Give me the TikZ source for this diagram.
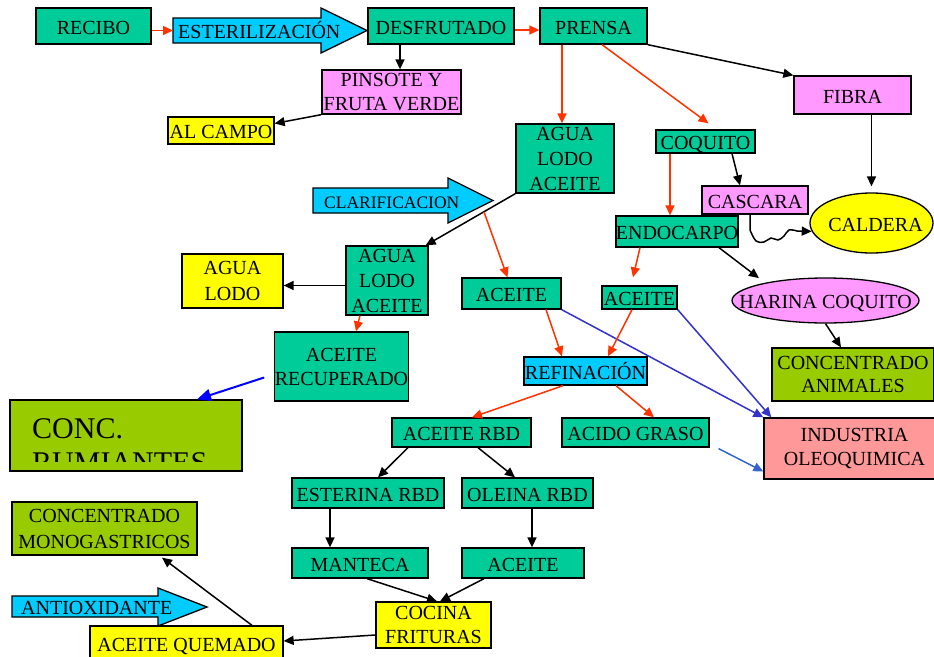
\documentclass[tikz,border=0pt]{standalone}
\usepackage{fontspec}
\setmainfont{Liberation Serif}
\usetikzlibrary{arrows.meta,shapes.geometric}

\definecolor{boxgreen}{RGB}{0,204,153}
\definecolor{boxcyan}{RGB}{0,204,255}
\definecolor{boxpink}{RGB}{255,153,255}
\definecolor{boxyellow}{RGB}{255,255,0}
\definecolor{boxolive}{RGB}{153,204,0}
\definecolor{boxsalmon}{RGB}{255,153,153}
\definecolor{linered}{RGB}{255,51,0}
\definecolor{lineblue}{RGB}{0,0,255}
\definecolor{lineviolet}{RGB}{51,51,204}
\definecolor{linesky}{RGB}{51,102,204}

\begin{document}
\begin{tikzpicture}[x=1pt, y=-1pt,
    box/.style={draw, rectangle, line width=1.3pt, inner sep=0pt, align=center,
      font=\fontsize{20}{25}\selectfont},
    one/.style={text height=16pt, text depth=0pt},
    wh/.style 2 args={minimum width=#1pt, minimum height=#2pt},
    fgreen/.style={fill=boxgreen},
    fcyan/.style={fill=boxcyan},
    fpink/.style={fill=boxpink},
    fyellow/.style={fill=boxyellow},
    folive/.style={fill=boxolive},
    fsalmon/.style={fill=boxsalmon},
    blockarrow/.style={draw, line width=1.3pt, fill=boxcyan},
    arrowtext/.style={anchor=west, inner xsep=5pt, inner ysep=0pt, text height=16pt,
      text depth=0pt, font=\fontsize{20}{25}\selectfont},
    blk/.style={-{Triangle[length=10pt,width=9pt]}, line width=1.5pt},
    redarr/.style={blk, draw=linered, fill=linered},
    bluearr/.style={-{Triangle[length=14pt,width=12pt]}, line width=2pt, draw=lineblue, fill=lineblue},
    violetarr/.style={blk, draw=lineviolet, fill=lineviolet},
    skyarr/.style={blk, draw=linesky, fill=linesky}]

    \useasboundingbox (0,0) rectangle (934,656);

    % Nodes
    \node [box, one, fgreen, wh={115}{36}] (recibo) at (93.5,26) {RECIBO};
    \draw [blockarrow] (173,18) -- (321,18) -- (321,8) -- (367,30.5) -- (321,53) -- (321,43) -- (173,43) -- cycle;
    \node [arrowtext] (esteril) at (173,30.5) {ESTERILIZACIÓN};
    \node [box, one, fgreen, wh={146}{36}] (desfrutado) at (441,26) {DESFRUTADO};
    \node [box, one, fgreen, wh={107}{36}] (prensa) at (593.5,26) {PRENSA};
    \node [box, fpink, wh={139}{44}, font=\fontsize{20}{24}\selectfont] (pinsote) at (391.5,92) {PINSOTE Y\\FRUTA VERDE};
    \node [box, one, fyellow, wh={106}{27}] (alcampo) at (221,130.5) {AL CAMPO};
    \node [box, one, fpink, wh={117}{38}] (fibra) at (852.5,95) {FIBRA};
    \node [box, fgreen, wh={98}{69}] (agua1) at (565,158.5) {AGUA\\LODO\\ACEITE};
    \node [box, one, fgreen, wh={99}{23}] (coquito) at (705.5,141.5) {COQUITO};
    \node [box, one, fpink, wh={106}{28}] (cascara) at (755,200) {CASCARA};
    \node [box, one, ellipse, fyellow, wh={123}{60}] (caldera) at (871.5,223) {\makebox[0pt]{\hspace{8pt}CALDERA}};
    \node [box, one, fgreen, wh={122}{31}] (endocarpo) at (677,231.5) {ENDOCARPO};
    \draw [blockarrow] (313,188) -- (448,188) -- (448,178) -- (493,200.5) -- (448,223) -- (448,213) -- (313,213) -- cycle;
    \node [arrowtext, inner xsep=11pt, text height=15pt, font=\fontsize{17.5}{20}\selectfont] (clarif) at (313,200.5) {CLARIFICACION};
    \coordinate (clarout) at (484,212);
    \node [box, fgreen, wh={82}{69}] (agua2) at (387,280.5) {AGUA\\LODO\\ACEITE};
    \node [box, fyellow, wh={101}{54}, font=\fontsize{20}{26}\selectfont] (agualodo) at (232.5,281) {AGUA\\LODO};
    \node [box, fgreen, wh={131}{69}, font=\fontsize{20}{24}\selectfont] (recuperado) at (341.5,366.5) {ACEITE\\RECUPERADO};
    \node [box, folive, wh={232}{71}] (rumiantes) at (126,435.5) {};
    \begin{scope}
      \clip (rumiantes.north west) rectangle ([yshift=10pt]rumiantes.south east);
      \node [anchor=north west, inner sep=0pt, align=left, font=\fontsize{30}{34}\selectfont] (rumtext) at (32,418) {CONC.\\RUMIANTES};
    \end{scope}
    \node [box, one, fgreen, wh={99}{31}] (aceite1) at (511.5,293.5) {ACEITE};
    \node [box, one, fgreen, wh={75}{23}] (aceite2) at (639.5,297.5) {ACEITE};
    \node [box, one, ellipse, fpink, wh={187}{45}] (harina) at (825.5,300.5) {\makebox[0pt]{HARINA COQUITO}};
    \node [box, folive, wh={162}{53}, font=\fontsize{20}{23.5}\selectfont] (animales) at (853,374.5) {CONCENTRADO\\ANIMALES};
    \node [box, one, fcyan, wh={123}{28}] (refinacion) at (585.5,371) {REFINACIÓN};
    \node [box, one, fgreen, wh={139}{29}] (rbd) at (461.5,432.5) {ACEITE RBD};
    \node [box, one, fgreen, wh={147}{29}] (acido) at (635.5,432.5) {ACIDO GRASO};
    \node [box, fsalmon, wh={181}{61}, font=\fontsize{20}{24}\selectfont] (industria) at (854.5,448.5) {INDUSTRIA\\OLEOQUIMICA};
    \node [box, one, fgreen, wh={152}{30}] (esterina) at (368,493) {ESTERINA RBD};
    \node [box, one, fgreen, wh={131}{30}] (oleina) at (527.5,493) {OLEINA RBD};
    \node [box, one, fgreen, wh={136}{30}] (manteca) at (360,563) {MANTECA};
    \node [box, one, fgreen, wh={122}{30}] (aceite3) at (523,563) {ACEITE};
    \node [box, fyellow, wh={115}{46}, font=\fontsize{20}{23.5}\selectfont] (cocina) at (433.5,625) {COCINA\\FRITURAS};
    \node [box, folive, wh={185}{53}, font=\fontsize{20}{26}\selectfont] (monogast) at (104.5,528.5) {CONCENTRADO\\MONOGASTRICOS};
    \draw [blockarrow] (12,596) -- (158,596) -- (158,588) -- (207,607) -- (158,626) -- (158,617) -- (12,617) -- cycle;
    \node [arrowtext, inner xsep=9pt] (antiox) at (12,606.5) {ANTIOXIDANTE};
    \node [box, one, fyellow, wh={193}{35}] (quemado) at (186.5,643.5) {ACEITE QUEMADO};

    % Arrows
    \draw [redarr] (recibo.east |- esteril.west) -- (esteril.west);
    \draw [redarr] ([yshift=-4pt]desfrutado.east) -- ([yshift=-4pt]prensa.west);
    \draw [blk] ([xshift=8.5pt]pinsote.north |- desfrutado.south) -- ([xshift=8.5pt]pinsote.north);
    \draw [blk] (pinsote.south west) -- ([yshift=7pt]alcampo.east);
    \draw [redarr] ([xshift=-3pt]agua1.north |- prensa.south) -- ([xshift=-3pt]agua1.north);
    \draw [redarr] ([xshift=8.5pt]prensa.south) -- ([xshift=3pt,yshift=6pt]coquito.north);
    \draw [blk] (prensa.south east) -- (fibra.north west);
    \draw [blk] (fibra.south -| caldera.north) -- ([yshift=6pt]caldera.north);
    \draw [blk] ([xshift=26.5pt]coquito.south) -- ([xshift=-15pt]cascara.north);
    \draw [redarr] ([xshift=-35.5pt]coquito.south) -- ([xshift=-35.5pt]coquito.south |- endocarpo.north);
    \draw [blk] ([xshift=-5pt]cascara.south) -- plot [smooth, tension=0.6] coordinates
      {(750,230) (756,241) (764,242) (771,238) (778,240) (784,236) (789,230) (797,231)} -- (caldera.188);
    \draw [blk] (agua1.south west) -- ([xshift=-3pt]agua2.north east);
    \draw [redarr] (clarout) -- ([xshift=-4pt]aceite1.north);
    \draw [blk] ([yshift=-5pt]agua2.west) -- ([yshift=-5pt]agua2.west -| agualodo.east);
    \draw [redarr] ([xshift=-27pt]agua2.south) -- ([xshift=14.5pt]recuperado.north);
    \draw [bluearr] ([xshift=-10pt,yshift=-11pt]recuperado.west) -- ([xshift=71pt]rumiantes.north);
    \draw [redarr] ([xshift=34.5pt]aceite1.south) -- ([xshift=-23.5pt]refinacion.north);
    \draw [violetarr] (aceite1.south east) -- (industria.north west);
    \draw [redarr] ([xshift=-7.5pt]aceite2.south) -- ([xshift=22.5pt]refinacion.north);
    \draw [violetarr] (aceite2.south east) -- ([xshift=8pt]industria.north west);
    \draw [redarr] ([xshift=-37pt]endocarpo.south) -- ([xshift=-6.5pt,yshift=8pt]aceite2.north);
    \draw [blk] ([xshift=42pt]endocarpo.south) -- ([yshift=6pt]harina.north west);
    \draw [blk] (harina.south) -- ([xshift=-12pt]animales.north);
    \draw [redarr] ([xshift=-22.5pt]refinacion.south) -- ([xshift=10.5pt]rbd.north);
    \draw [redarr] ([xshift=30.5pt]refinacion.south) -- ([xshift=18.5pt]acido.north);
    \draw [skyarr] ([xshift=9pt,yshift=-1pt]acido.south east) -- ([yshift=-23pt]industria.west);
    \draw [blk] ([xshift=-53.5pt]rbd.south) -- ([xshift=10pt]esterina.north);
    \draw [blk] ([xshift=16.5pt]rbd.south) -- ([xshift=-12.5pt]oleina.north);
    \draw [blk] ([xshift=-38pt]esterina.south) -- ([xshift=-38pt]esterina.south |- manteca.north);
    \draw [blk] ([xshift=4.5pt]oleina.south) -- ([xshift=4.5pt]oleina.south |- aceite3.north);
    \draw [blk] ([xshift=7pt]manteca.south) -- ([xshift=3.5pt]cocina.north);
    \draw [blk] ([xshift=-39pt]aceite3.south) -- ([xshift=6.5pt]cocina.north);
    \draw [blk] ([yshift=-10pt]cocina.west) -- ([yshift=2.5pt]quemado.east);
    \draw [blk] ([xshift=65.5pt]quemado.north) -- ([xshift=57.5pt,yshift=-2pt]monogast.south);

\end{tikzpicture}
\end{document}
